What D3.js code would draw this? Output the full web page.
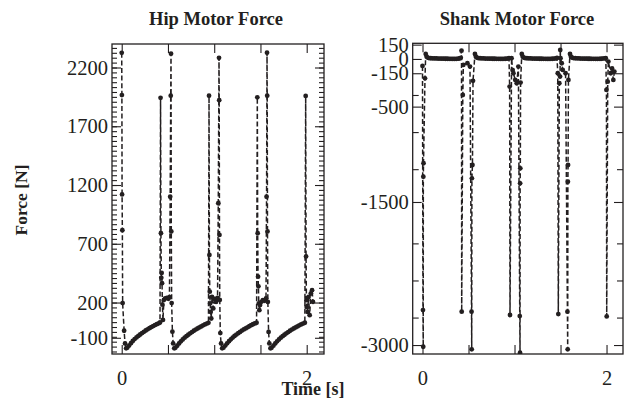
<!DOCTYPE html>
<html><head><meta charset="utf-8">
<script src="https://cdn.jsdelivr.net/npm/d3@7"></script>
<style>
body{margin:0;background:#fff;}
text{font-family:"Liberation Serif","Times New Roman",serif;fill:#231f20;}
</style></head><body>
<svg id="c" width="624" height="409"></svg>
<script>
// ---------- data ----------
const hipTime = [
 0.000,0.002,0.004,0.007,0.010,0.026,0.036,0.048,
 0.060,0.080,0.100,0.120,0.140,0.160,0.180,0.200,0.220,0.240,0.260,0.280,0.300,0.320,0.340,0.360,0.380,0.400,0.414,
 0.420,0.424,0.428,0.432,0.436,0.440,0.446,0.456,0.470,0.488,0.504,0.516,0.524,0.530,0.533,0.536,0.540,0.548,0.556,0.568,
 0.580,0.600,0.620,0.640,0.660,0.680,0.700,0.720,0.740,0.760,0.780,0.800,0.820,0.840,0.860,0.880,0.900,0.920,0.938,
 0.944,0.948,0.952,0.956,0.962,0.968,0.976,0.990,1.004,1.020,1.036,1.044,1.052,1.054,1.057,1.060,1.066,1.074,1.086,
 1.100,1.120,1.140,1.160,1.180,1.200,1.220,1.240,1.260,1.280,1.300,1.320,1.340,1.360,1.380,1.400,1.420,1.440,1.458,
 1.466,1.470,1.474,1.478,1.482,1.488,1.496,1.510,1.526,1.544,1.560,1.566,1.571,1.573,1.576,1.580,1.588,1.596,1.608,
 1.620,1.640,1.660,1.680,1.700,1.720,1.740,1.760,1.780,1.800,1.820,1.840,1.860,1.880,1.900,1.920,1.940,1.960,1.980,
 1.989,1.993,1.997,2.000,2.010,2.020,2.032,2.045,2.058,2.068
];
const hipForce = [
 2325,1965,1120,815,195,-40,-148,-190,
 -184,-166,-146,-127,-111,-97,-84,-72,-60,-49,-38,-28,-18,-9,0,8,16,23,30,
 1942,790,410,452,365,182,52,222,236,240,232,245,1100,1960,2318,805,195,-48,-148,-190,
 -185,-168,-148,-130,-114,-99,-86,-74,-62,-51,-40,-30,-21,-12,-3,6,14,21,27,
 1960,605,292,192,120,64,248,150,230,205,240,1045,2282,1922,775,222,-60,-148,-190,
 -184,-166,-147,-129,-113,-98,-85,-73,-61,-50,-39,-29,-20,-11,-2,7,15,22,28,
 1946,790,420,338,192,135,178,206,220,215,235,1100,2326,1960,805,205,-50,-148,-190,
 -185,-167,-148,-130,-114,-99,-86,-74,-62,-51,-40,-30,-21,-12,-3,6,14,21,28,
 1958,592,220,162,120,248,92,278,305,205
];

const shankTime = [
 0.000,0.005,0.008,0.009,0.011,0.027,0.035,
 0.045,0.055,0.070,0.090,0.110,0.130,0.150,0.170,0.190,0.210,0.230,0.250,0.270,0.290,0.310,0.330,0.350,0.370,0.390,0.405,0.416,
 0.424,0.426,0.438,0.444,0.488,0.516,0.533,0.535,0.537,0.543,0.549,0.570,
 0.580,0.590,0.605,0.625,0.645,0.665,0.685,0.705,0.725,0.745,0.765,0.785,0.805,0.825,0.845,0.865,0.885,0.905,0.925,0.940,
 0.947,0.951,0.968,0.980,0.988,1.008,1.024,1.042,1.057,1.060,1.061,1.063,1.066,1.079,
 1.089,1.100,1.115,1.135,1.155,1.175,1.195,1.215,1.235,1.255,1.275,1.295,1.315,1.335,1.355,1.375,1.395,1.415,1.435,1.452,1.462,
 1.470,1.476,1.487,1.495,1.497,1.500,1.513,1.524,1.555,1.575,1.578,1.580,1.582,1.586,1.603,
 1.613,1.624,1.640,1.660,1.680,1.700,1.720,1.740,1.760,1.780,1.800,1.820,1.840,1.860,1.880,1.900,1.920,1.940,1.960,1.978,1.992,
 1.999,2.002,2.013,2.020,2.046,2.060,2.074,2.085
];
const shankForce = [
 -73,-2633,-3018,-1235,-1094,-203,52,
 24,14,9,7,6,5,5,4,4,3,3,2,2,1,1,0,0,1,3,6,12,
 87,-2650,-378,-63,-45,-80,-2650,-3045,-1252,-1112,-230,52,
 24,14,9,7,6,5,4,4,3,3,2,2,1,1,0,0,1,2,4,8,
 -290,-2685,7,-117,-150,-220,-255,-80,-2696,-3081,-1304,-1147,-248,52,
 24,14,9,7,6,5,4,4,3,3,2,2,1,1,0,0,1,2,4,6,10,
 -150,-2675,-255,-185,95,7,-45,-115,-150,-2650,-3045,-1287,-1112,-220,52,
 24,14,9,7,6,5,4,4,3,3,2,2,1,1,0,0,1,2,4,6,8,
 -325,-2700,-238,-28,-150,-100,-220,-133
];

const xTicks = [0, 0.5, 1, 1.5, 2];
const xTickLabels = ["0", "", "", "", "2"];
const hipLabelTicks = [2200, 1700, 1200, 700, 200, -100];
const shankLabelTicks = [150, 0, -150, -500, -1500, -3000];
const titles = ["Hip Motor Force", "Shank Motor Force"];
const xTitle = "Time [s]";
const yTitle = "Force [N]";

// ---------- drawing ----------
const ink = "#231f20";
const svg = d3.select("#c");
const tickFont = 20.5;

function panel(cfg){
  const g = svg.append("g");
  const x = d3.scaleLinear().domain(cfg.xDom).range([cfg.x0, cfg.x1]);
  const y = d3.scaleLinear().domain(cfg.yDom).range([cfg.y1, cfg.y0]);
  const id = "clip" + cfg.key;
  svg.append("clipPath").attr("id", id).append("rect")
    .attr("x", cfg.x0).attr("y", cfg.y0).attr("width", cfg.x1 - cfg.x0).attr("height", cfg.y1 - cfg.y0);

  const noText = a => a.call(s => s.select(".domain").remove()).call(s => s.selectAll("text").remove());
  const styleTicks = s => s.selectAll("line").attr("stroke", ink).attr("stroke-width", 1.1);

  // minor ticks
  const minor = cfg.minor;
  g.append("g").attr("transform", `translate(${cfg.x0},0)`)
    .call(d3.axisLeft(y).tickValues(minor).tickSize(-cfg.minorLen)).call(noText).call(styleTicks);
  g.append("g").attr("transform", `translate(${cfg.x1},0)`)
    .call(d3.axisRight(y).tickValues(minor).tickSize(-cfg.minorLen)).call(noText).call(styleTicks);
  // major ticks
  g.append("g").attr("transform", `translate(${cfg.x1},0)`)
    .call(d3.axisRight(y).tickValues(cfg.major).tickSize(-9)).call(noText).call(styleTicks);
  const yl = g.append("g").attr("transform", `translate(${cfg.x0},0)`)
    .call(d3.axisLeft(y).tickValues(cfg.major).tickSize(-9).tickPadding(4).tickFormat(d => cfg.labels.includes(d) ? String(d) : ""));
  yl.select(".domain").remove(); styleTicks(yl);
  yl.selectAll("text").attr("font-size", tickFont).attr("fill", ink).attr("font-family", "Liberation Serif");

  // x ticks
  g.append("g").attr("transform", `translate(0,${cfg.y0})`)
    .call(d3.axisTop(x).tickValues(xTicks).tickSize(-9)).call(noText).call(styleTicks);
  const xl = g.append("g").attr("transform", `translate(0,${cfg.y1})`)
    .call(d3.axisBottom(x).tickValues(xTicks).tickSize(-9).tickPadding(16).tickFormat((d,i) => xTickLabels[i]));
  xl.select(".domain").remove(); styleTicks(xl);
  xl.selectAll("text").attr("font-size", tickFont).attr("fill", ink).attr("font-family", "Liberation Serif");

  // data
  const pts = cfg.t.map((t, i) => [t, cfg.v[i]]);
  const dg = g.append("g").attr("clip-path", `url(#${id})`);
  dg.append("path").datum(pts)
    .attr("d", d3.line().x(d => x(d[0])).y(d => y(d[1])))
    .attr("fill", "none").attr("stroke", ink).attr("stroke-width", 1.5).attr("stroke-dasharray", "5,2.6");
  dg.selectAll("circle").data(pts).join("circle")
    .attr("cx", d => x(d[0])).attr("cy", d => y(d[1])).attr("r", 2.4).attr("fill", ink);

  // frame
  g.append("rect").attr("x", cfg.x0).attr("y", cfg.y0).attr("width", cfg.x1 - cfg.x0).attr("height", cfg.y1 - cfg.y0)
    .attr("fill", "none").attr("stroke", ink).attr("stroke-width", 1.3);

  // title
  g.append("text").attr("x", cfg.titleX).attr("y", 25).attr("text-anchor", "middle")
    .attr("font-size", 18.5).attr("font-weight", "bold").text(cfg.title);
}

const hipMinor = d3.range(2200, -240, -500/12).concat(d3.range(2200 + 500/12, 2400, 500/12));
panel({key:"h", x0:112, x1:324, y0:44, y1:354, xDom:[-0.105, 2.187], yDom:[-238, 2400],
  t: hipTime, v: hipForce, minor: hipMinor, minorLen: 5,
  major: [2200, 1700, 1200, 700, 200, -100], labels: hipLabelTicks,
  title: titles[0], titleX: 216});

const shankMinor = d3.range(-378, -3000, -389).filter(v => shankLabelTicks.every(l => Math.abs(l - v) > 60));
panel({key:"s", x0:412.7, x1:623, y0:43.3, y1:354, xDom:[-0.1065, 2.179], yDom:[-3094, 164],
  t: shankTime, v: shankForce, minor: shankMinor, minorLen: 6,
  major: shankLabelTicks, labels: shankLabelTicks,
  title: titles[1], titleX: 517});

svg.append("text").attr("x", 313).attr("y", 395).attr("text-anchor", "middle")
  .attr("font-size", 18).attr("font-weight", "bold").text(xTitle);
svg.append("text").attr("transform", "translate(27,200) rotate(-90)").attr("text-anchor", "middle")
  .attr("font-size", 17.5).attr("font-weight", "bold").text(yTitle);
</script>
</body></html>
